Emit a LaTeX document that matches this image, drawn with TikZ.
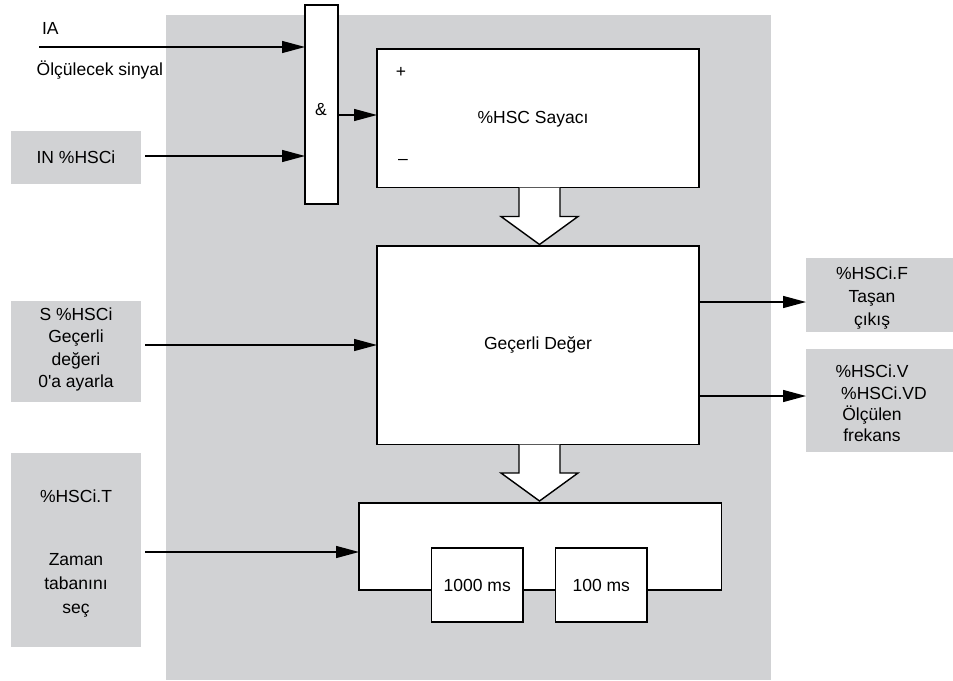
\documentclass[tikz,border=0pt]{standalone}
\usepackage{fontspec}
\setmainfont{Liberation Sans}
\usetikzlibrary{arrows.meta}
\definecolor{bggray}{RGB}{209,210,212}
\begin{document}
\begin{tikzpicture}[x=1pt,y=-1pt,
  every node/.style={font=\fontsize{17.5}{21.5}\selectfont, inner sep=0pt, outer sep=0pt},
  wbox/.style={draw=black, fill=white, line width=1.4pt, rectangle},
  gbox/.style={fill=bggray, rectangle, align=center},
  sig/.style={line width=1.35pt, -{Triangle[length=23pt,width=12pt]}},
  fat/.style={draw=black, fill=white, line width=1.4pt, line join=miter}]
\useasboundingbox (0,0) rectangle (953,680);
\fill[white] (0,0) rectangle (953,680);
\node[fill=bggray, minimum width=605pt, minimum height=665pt] (bg) at (468.5,347.5) {};

% input side boxes
\node[gbox, minimum width=130pt, minimum height=53pt] (inbox) at (76,157.5) {IN \%HSCi};
\node[gbox, minimum width=130pt, minimum height=101pt] (sbox) at (76,351.5) {};
\node[align=center, font=\fontsize{17.5}{22.4}\selectfont] (stxt) at (76,349.5) {S \%HSCi\\Geçerli\\değeri\\0\textquotesingle a ayarla};
\node[gbox, minimum width=130pt, minimum height=194pt] (tbox) at (76,550) {};
\node (ttop) at (76,496) {\%HSCi.T};
\node[align=center, font=\fontsize{17.5}{24}\selectfont] (tlow) at (76,585) {Zaman\\tabanını\\seç};

% output side boxes
\node[gbox, minimum width=147pt, minimum height=74pt] (fbox) at (879.5,295) {};
\node[align=center, font=\fontsize{17.5}{23}\selectfont] (ftxt) at (872,298) {\%HSCi.F\\Taşan\\çıkış};
\node[gbox, minimum width=147pt, minimum height=103pt] (vbox) at (879.5,400.5) {};
\node[align=center, font=\fontsize{17.5}{21.3}\selectfont] (vtxt) at (872,403.5) {\%HSCi.V\\\hspace*{24pt}\%HSCi.VD\\Ölçülen\\frekans};

% IA signal
\node[anchor=west] (ia) at (42,28) {IA};
\node[anchor=west] (olc) at (36.7,70) {Ölçülecek sinyal};
\coordinate (iastart) at (39,47);

% AND gate
\node[wbox, minimum width=33pt, minimum height=199pt] (and) at (321.5,104.5) {};
\node (amp) at (321,110) {\&};

% counter
\node[wbox, minimum width=322pt, minimum height=138.5pt] (hsc) at (538,118.25) {};
\node (hsctxt) at (533,119) {\%HSC Sayacı};
\node (plus) at (401,72) {+};
\node (minus) at (403,162) {--};

% current value
\node[wbox, minimum width=322pt, minimum height=198.5pt] (cur) at (538,345.25) {Geçerli Değer};

% time base
\node[wbox, minimum width=362.5pt, minimum height=87pt] (tb) at (540.25,546.5) {};
\node[wbox, minimum width=91.5pt, minimum height=74pt] (ms1) at (477.25,585) {1000 ms};
\node[wbox, minimum width=91.5pt, minimum height=74pt] (ms2) at (601.25,585) {100 ms};

% fat arrows
\path[fat] (519,187.5) -- (519,216.5) -- (501,216.5) -- (539.5,244.5) -- (578,216.5) -- (560,216.5) -- (560,187.5);
\path[fat] (519,444.5) -- (519,473) -- (501,473) -- (539.5,501) -- (578,473) -- (560,473) -- (560,444.5);

% signal arrows
\draw[sig] (iastart) -- (iastart -| and.west);
\draw[sig] ([xshift=4pt]inbox.east |- 0,156) -- (and.west |- 0,156);
\draw[sig] (and.east |- 0,115) -- (hsc.west |- 0,115);
\draw[sig] ([xshift=4pt]sbox.east |- 0,345) -- (cur.west |- 0,345);
\draw[sig] ([xshift=4pt]tbox.east |- 0,552) -- (tb.west |- 0,552);
\draw[sig] (cur.east |- 0,302) -- (fbox.west |- 0,302);
\draw[sig] (cur.east |- 0,396) -- (vbox.west |- 0,396);
\end{tikzpicture}
\end{document}
